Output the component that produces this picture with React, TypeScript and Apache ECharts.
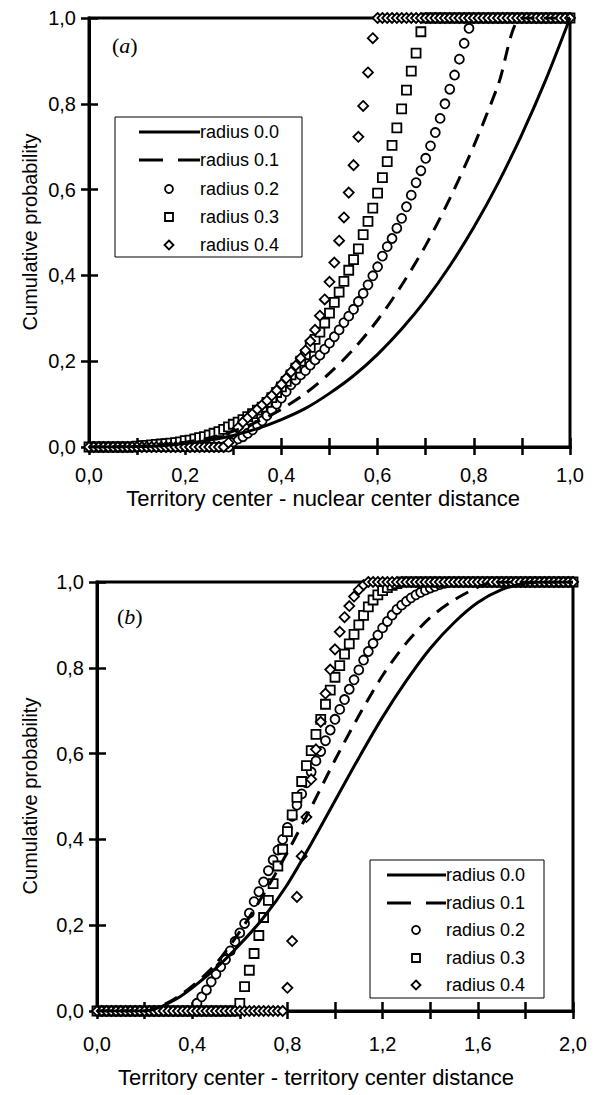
import React, { useEffect, useRef } from "react";
import * as echarts from "echarts";

// ---------- DATA ----------
const seriesNames = ["radius 0.0", "radius 0.1", "radius 0.2", "radius 0.3", "radius 0.4"];

// Panel (a): x from 0 to 1, markers every 0.01
const aStep = 0.01;
const aSolidX = [0, 0.05, 0.1, 0.15, 0.2, 0.25, 0.3, 0.35, 0.4, 0.45, 0.5, 0.55, 0.6, 0.65, 0.7, 0.75, 0.8, 0.85, 0.9, 0.95, 1.0];
const aSolidY = [0, 0.0002, 0.001, 0.003, 0.008, 0.016, 0.027, 0.043, 0.064, 0.09, 0.125, 0.166, 0.216, 0.275, 0.343, 0.422, 0.512, 0.614, 0.729, 0.857, 1.0];
const aDashX = [0, 0.05, 0.1, 0.15, 0.2, 0.25, 0.3, 0.35, 0.4, 0.45, 0.5, 0.55, 0.6, 0.65, 0.7, 0.75, 0.8, 0.85, 0.9, 0.95, 1.0];
const aDashY = [0, 0.0002, 0.0014, 0.005, 0.011, 0.021, 0.037, 0.059, 0.088, 0.125, 0.172, 0.228, 0.296, 0.377, 0.47, 0.579, 0.702, 0.842, 1.0, 1.0, 1.0];
const aCircle = [
  0, 0, 0, 0, 0, 0, 0, 0, 0, 0,
  0, 0, 0, 0, 0, 0, 0, 0, 0, 0,
  0, 0, 0, 0, 0, 0, 0, 0, 0, 0,
  0.012, 0.019, 0.024, 0.032, 0.04, 0.051, 0.061, 0.073, 0.086, 0.1,
  0.114, 0.129, 0.145, 0.156, 0.168, 0.178, 0.191, 0.203, 0.214, 0.228,
  0.242, 0.257, 0.273, 0.29, 0.305, 0.321, 0.339, 0.358, 0.378, 0.399,
  0.42, 0.445, 0.467, 0.486, 0.51, 0.533, 0.56, 0.587, 0.616, 0.644,
  0.673, 0.702, 0.733, 0.766, 0.8, 0.834, 0.867, 0.904, 0.941, 0.976,
  1, 1, 1, 1, 1, 1, 1, 1, 1, 1,
  1, 1, 1, 1, 1, 1, 1, 1, 1, 1, 1,
];
const aSquare = [
  0, 0, 0, 0, 0, 0, 0, 0, 0, 0,
  0.002, 0.003, 0.004, 0.005, 0.006, 0.007, 0.008, 0.009, 0.01, 0.012,
  0.015, 0.016, 0.019, 0.022, 0.024, 0.028, 0.032, 0.036, 0.041, 0.047,
  0.053, 0.058, 0.064, 0.071, 0.078, 0.086, 0.093, 0.104, 0.115, 0.127,
  0.14, 0.153, 0.168, 0.184, 0.2, 0.215, 0.232, 0.251, 0.268, 0.289,
  0.312, 0.337, 0.361, 0.386, 0.412, 0.437, 0.462, 0.495, 0.526, 0.557,
  0.592, 0.628, 0.665, 0.703, 0.744, 0.788, 0.832, 0.876, 0.918, 0.968,
  1, 1, 1, 1, 1, 1, 1, 1, 1, 1,
  1, 1, 1, 1, 1, 1, 1, 1, 1, 1,
  1, 1, 1, 1, 1, 1, 1, 1, 1, 1, 1,
];
const aDiamond = [
  0, 0, 0, 0, 0, 0, 0, 0, 0, 0,
  0, 0, 0, 0, 0, 0, 0, 0, 0, 0,
  0, 0, 0, 0, 0, 0, 0, 0, 0, 0.01,
  0.03, 0.045, 0.058, 0.068, 0.078, 0.088, 0.098, 0.108, 0.12, 0.132,
  0.146, 0.16, 0.175, 0.19, 0.207, 0.225, 0.247, 0.273, 0.306, 0.344,
  0.385, 0.43, 0.481, 0.535, 0.593, 0.657, 0.723, 0.795, 0.873, 0.953,
  1, 1, 1, 1, 1, 1, 1, 1, 1, 1,
  1, 1, 1, 1, 1, 1, 1, 1, 1, 1,
  1, 1, 1, 1, 1, 1, 1, 1, 1, 1,
  1, 1, 1, 1, 1, 1, 1, 1, 1, 1, 1,
];

// Panel (b): x from 0 to 2, markers every 0.02
const bStep = 0.02;
const bSolidX = [0, 0.2, 0.25, 0.3, 0.35, 0.4, 0.5, 0.6, 0.7, 0.8, 0.9, 1.0, 1.1, 1.2, 1.3, 1.4, 1.5, 1.6, 1.7, 1.8, 1.9, 2.0];
const bSolidY = [0, 0, 0.006, 0.018, 0.034, 0.054, 0.1, 0.155, 0.218, 0.295, 0.39, 0.49, 0.59, 0.685, 0.77, 0.845, 0.905, 0.952, 0.982, 0.997, 1, 1];
const bDashX = [0, 0.2, 0.3, 0.35, 0.4, 0.45, 0.5, 0.6, 0.7, 0.8, 0.9, 1.0, 1.1, 1.2, 1.3, 1.4, 1.5, 1.6, 1.65, 1.8, 2.0];
const bDashY = [0, 0, 0.02, 0.037, 0.058, 0.082, 0.11, 0.185, 0.272, 0.37, 0.475, 0.585, 0.688, 0.782, 0.858, 0.917, 0.958, 0.988, 0.998, 1, 1];
const bCircle = [
  0, 0, 0, 0, 0, 0, 0, 0, 0, 0,
  0, 0, 0, 0, 0, 0, 0, 0, 0, 0, 0,
  0.018, 0.033, 0.049, 0.068, 0.086, 0.103, 0.12, 0.14, 0.162, 0.182,
  0.204, 0.228, 0.255, 0.278, 0.301, 0.327, 0.352, 0.375, 0.4, 0.428,
  0.454, 0.48, 0.506, 0.532, 0.557, 0.583, 0.605, 0.63, 0.655, 0.68,
  0.703, 0.726, 0.75, 0.772, 0.795, 0.818, 0.838, 0.857, 0.876, 0.893,
  0.908, 0.923, 0.936, 0.946, 0.955, 0.963, 0.97, 0.976, 0.981, 0.986,
  0.99, 0.994, 0.997,
  1, 1, 1, 1, 1, 1, 1, 1, 1, 1,
  1, 1, 1, 1, 1, 1, 1, 1, 1, 1,
  1, 1, 1, 1, 1, 1, 1,
];
const bSquare = [
  0, 0, 0, 0, 0, 0, 0, 0, 0, 0,
  0, 0, 0, 0, 0, 0, 0, 0, 0, 0,
  0, 0, 0, 0, 0, 0, 0, 0, 0, 0,
  0.018, 0.057, 0.095, 0.134, 0.176, 0.218, 0.258, 0.297, 0.338, 0.377,
  0.418, 0.457, 0.498, 0.535, 0.572, 0.607, 0.645, 0.68, 0.715, 0.748,
  0.778, 0.805, 0.832, 0.856, 0.878, 0.9, 0.922, 0.942, 0.958, 0.97,
  0.98, 0.987, 0.992, 0.996,
  1, 1, 1, 1, 1, 1, 1, 1, 1, 1,
  1, 1, 1, 1, 1, 1, 1, 1, 1, 1,
  1, 1, 1, 1, 1, 1, 1, 1, 1, 1,
  1, 1, 1, 1, 1, 1, 1,
];
const bDiamond = [
  0, 0, 0, 0, 0, 0, 0, 0, 0, 0,
  0, 0, 0, 0, 0, 0, 0, 0, 0, 0,
  0, 0, 0, 0, 0, 0, 0, 0, 0, 0,
  0, 0, 0, 0, 0, 0, 0, 0, 0, 0,
  0.054, 0.163, 0.266, 0.361, 0.452, 0.54, 0.61, 0.674, 0.74, 0.796,
  0.843, 0.884, 0.918, 0.944, 0.966, 0.982, 0.993,
  1, 1, 1, 1, 1, 1, 1, 1, 1, 1,
  1, 1, 1, 1, 1, 1, 1, 1, 1, 1,
  1, 1, 1, 1, 1, 1, 1, 1, 1, 1,
  1, 1, 1, 1, 1, 1, 1, 1, 1, 1,
  1, 1, 1, 1,
];

const yTitle = "Cumulative probability";
const aXTitle = "Territory center - nuclear center distance";
const bXTitle = "Territory center - territory center distance";

// ---------- HELPERS ----------
const SANS = "Liberation Sans, Arial, sans-serif";
const SERIF = "Liberation Serif, Times New Roman, serif";

const fmt = (v: number) => v.toFixed(1).replace(".", ",");

const pairs = (xs: number[], ys: number[]) => ys.map((y, i) => [xs[i], y]);
const stepped = (ys: number[], step: number) => ys.map((y, i) => [+(i * step).toFixed(4), y]);

const tickStyle = { color: "#000", width: 2.5 };
const axisLineStyle = { color: "#000", width: 3 };

function axesFor(grid: number, max: number, interval: number, labelEvery: number, labelMargin: number) {
  const xMain = {
    type: "value", gridIndex: grid, min: 0, max, interval, position: "bottom",
    axisLine: { show: true, onZero: false, lineStyle: axisLineStyle },
    axisTick: { show: true, inside: false, length: 8, lineStyle: tickStyle },
    splitLine: { show: false },
    axisLabel: {
      color: "#000", fontSize: 20, fontFamily: SANS, margin: labelMargin,
      formatter: (v: number) => {
        const k = Math.round(v / interval);
        return k % labelEvery === 0 ? fmt(v) : "";
      },
    },
  };
  const xInner = {
    type: "value", gridIndex: grid, min: 0, max, interval, position: "bottom",
    axisLine: { show: true, onZero: false, lineStyle: axisLineStyle },
    axisTick: { show: true, inside: true, length: 9, lineStyle: tickStyle },
    splitLine: { show: false }, axisLabel: { show: false },
  };
  const yMain = {
    type: "value", gridIndex: grid, min: 0, max: 1, interval: 0.2, position: "left",
    axisLine: { show: true, onZero: false, lineStyle: axisLineStyle },
    axisTick: { show: true, inside: false, length: 8, lineStyle: tickStyle },
    splitLine: { show: false },
    axisLabel: { color: "#000", fontSize: 20, fontFamily: SANS, margin: 13, formatter: (v: number) => fmt(v) },
  };
  const yInner = {
    type: "value", gridIndex: grid, min: 0, max: 1, interval: 0.2, position: "left", offset: 0,
    axisLine: { show: true, onZero: false, lineStyle: axisLineStyle },
    axisTick: { show: true, inside: true, length: 9, lineStyle: tickStyle },
    splitLine: { show: false }, axisLabel: { show: false },
  };
  return { x: [xMain, xInner], y: [yMain, yInner] };
}

function seriesFor(
  xIdx: number, yIdx: number,
  solid: number[][], dash: number[][], circ: number[][], sq: number[][], dia: number[][],
) {
  const lineBase = {
    type: "line", xAxisIndex: xIdx, yAxisIndex: yIdx, showSymbol: false, symbol: "none",
    smooth: 0.3, clip: true, silent: true,
  };
  const scatBase = {
    type: "scatter", xAxisIndex: xIdx, yAxisIndex: yIdx, clip: false, silent: true,
    itemStyle: { color: "#fff", borderColor: "#000", borderWidth: 1.8, opacity: 1 },
  };
  return [
    { ...lineBase, name: seriesNames[0], data: solid, lineStyle: { color: "#000", width: 3 } },
    { ...lineBase, name: seriesNames[1], data: dash, lineStyle: { color: "#000", width: 3, type: [14, 9] } },
    { ...scatBase, name: seriesNames[2], data: circ, symbol: "circle", symbolSize: 9 },
    { ...scatBase, name: seriesNames[3], data: sq, symbol: "rect", symbolSize: 9 },
    { ...scatBase, name: seriesNames[4], data: dia, symbol: "diamond", symbolSize: 10 },
  ];
}

function legendGraphic(
  box: { x: number; y: number; w: number; h: number },
  lineX1: number, lineX2: number, markerX: number, textX: number, rows: number[],
) {
  const els: any[] = [];
  els.push({ type: "rect", z: 50, shape: { x: box.x, y: box.y, width: box.w, height: box.h }, style: { fill: "#fff", stroke: "#000", lineWidth: 1 } });
  const mk = { fill: "#fff", stroke: "#000", lineWidth: 1.8 };
  els.push({ type: "line", z: 51, shape: { x1: lineX1, y1: rows[0], x2: lineX2, y2: rows[0] }, style: { stroke: "#000", lineWidth: 3 } });
  els.push({ type: "line", z: 51, shape: { x1: lineX1, y1: rows[1], x2: lineX2, y2: rows[1] }, style: { stroke: "#000", lineWidth: 3, lineDash: [24, 15] } });
  els.push({ type: "circle", z: 51, shape: { cx: markerX, cy: rows[2], r: 4 }, style: mk });
  els.push({ type: "rect", z: 51, shape: { x: markerX - 4, y: rows[3] - 4, width: 8, height: 8 }, style: mk });
  els.push({
    type: "polygon", z: 51,
    shape: { points: [[markerX, rows[4] - 4.5], [markerX + 4.5, rows[4]], [markerX, rows[4] + 4.5], [markerX - 4.5, rows[4]]] },
    style: mk,
  });
  seriesNames.forEach((n, i) => {
    els.push({
      type: "text", z: 52, x: textX, y: rows[i],
      style: { text: n, fill: "#000", font: `18px ${SANS}`, textAlign: "left", textVerticalAlign: "middle" },
    });
  });
  return els;
}

function panelTag(letter: string, x: number, y: number) {
  return {
    type: "text", z: 52, x, y,
    style: {
      text: `{p|(}{i|${letter}}{p|)}`,
      textAlign: "left", textVerticalAlign: "middle",
      rich: {
        p: { fontFamily: SERIF, fontSize: 22, fill: "#000" },
        i: { fontFamily: SERIF, fontSize: 22, fontStyle: "italic", fill: "#000" },
      },
    },
  };
}

export default function App() {
  const ref = useRef<HTMLDivElement>(null);

  useEffect(() => {
    if (!ref.current) return;
    const chart = echarts.init(ref.current, null, { renderer: "svg" });

    const axA = axesFor(0, 1, 0.1, 2, 18);
    const axB = axesFor(1, 2, 0.2, 2, 23);

    const option: any = {
      animation: false,
      backgroundColor: "#fff",
      grid: [
        { left: 89, top: 18, width: 481, height: 429, show: true, borderColor: "#000", borderWidth: 3, backgroundColor: "transparent" },
        { left: 97, top: 582, width: 476, height: 429, show: true, borderColor: "#000", borderWidth: 3, backgroundColor: "transparent" },
      ],
      xAxis: [...axA.x, ...axB.x],
      yAxis: [...axA.y, ...axB.y],
      series: [
        ...seriesFor(0, 0,
          pairs(aSolidX, aSolidY), pairs(aDashX, aDashY),
          stepped(aCircle, aStep), stepped(aSquare, aStep), stepped(aDiamond, aStep)),
        ...seriesFor(2, 2,
          pairs(bSolidX, bSolidY), pairs(bDashX, bDashY),
          stepped(bCircle, bStep), stepped(bSquare, bStep), stepped(bDiamond, bStep)),
      ],
      graphic: [
        ...legendGraphic({ x: 115, y: 117, w: 187, h: 140 }, 139, 200, 169, 200, [132, 160, 189, 217, 245]),
        ...legendGraphic({ x: 370, y: 860, w: 174, h: 138 }, 387, 446, 416, 446, [875, 903, 930, 958, 985]),
        panelTag("a", 112, 45),
        panelTag("b", 117, 616),
        {
          type: "text", x: 30, y: 232, rotation: Math.PI / 2,
          style: { text: yTitle, fill: "#000", font: `20px ${SANS}`, textAlign: "center", textVerticalAlign: "middle" },
        },
        {
          type: "text", x: 30, y: 796, rotation: Math.PI / 2,
          style: { text: yTitle, fill: "#000", font: `20px ${SANS}`, textAlign: "center", textVerticalAlign: "middle" },
        },
        {
          type: "text", x: 323, y: 498,
          style: { text: aXTitle, fill: "#000", font: `22px ${SANS}`, textAlign: "center", textVerticalAlign: "middle" },
        },
        {
          type: "text", x: 316, y: 1077,
          style: { text: bXTitle, fill: "#000", font: `22px ${SANS}`, textAlign: "center", textVerticalAlign: "middle" },
        },
      ],
    };

    chart.setOption(option);
    return () => chart.dispose();
  }, []);

  return (
    <div
      ref={ref}
      style={{ position: "absolute", left: 0, top: 0, width: 596, height: 1095, background: "#fff" }}
    />
  );
}
